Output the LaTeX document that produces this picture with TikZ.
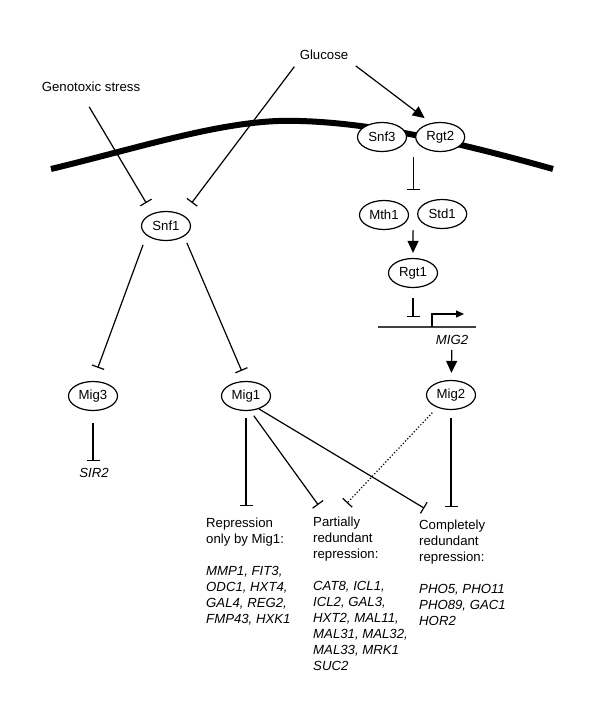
\documentclass[tikz,border=0pt]{standalone}
\usepackage{fontspec}
\setmainfont{Liberation Sans}
\usetikzlibrary{arrows.meta,positioning,calc}
\usetikzlibrary{shapes.geometric}
\tikzset{
  % proteins are drawn as ellipses sitting on top of the lines
  protein/.style={draw, ellipse, fill=white, line width=1.2pt,
  minimum width=49pt,
  minimum height=29pt, inner sep=0pt},
  signal/.style={inner sep=1pt},
  gene/.style={inner sep=1pt, font=\fontsize{13.2}{16}\selectfont\itshape},
  targets/.style={align=left, anchor=north west, inner sep=0pt},
  act/.style={-{Triangle[length=12pt,width=11pt]}, line width=1.2pt},
  inh/.style={-{Bar[width=13pt]}, line width=1.2pt}}

\begin{document}
\begin{tikzpicture}[%
    x=1pt, y=-1pt,           % one unit is one pixel of the figure
    font=\fontsize{13.2}{16}\selectfont,
    ]

\useasboundingbox (0,0) rectangle (600,710);

% the membrane
\draw [line width=6pt] (51,169) .. controls (150,145) and (230,118) .. (300,121)
  .. controls (370,123) and (450,140) .. (553,169);

\node (glucose) [signal] at (324,55) {Glucose};
\node (stress) [signal] at (91,87) {Genotoxic stress};

\node (snf3) [protein] at (382,137) {Snf3};
\node (rgt2) [protein, right=8pt of snf3] {Rgt2};

\node (snf1) [protein] at (166,226) {Snf1};

\node (mth1) [protein] at (384,215) {Mth1};
\node (std1) [protein, right=8pt of mth1, yshift=1pt] {Std1};
\coordinate (mthstd) at ($(mth1.east)!0.5!(std1.west)$); %between Mth1 and Std1

\node (rgt1) [protein] at (413,273) {Rgt1};

\coordinate (tss) at (432,327); %start of MIG2
\coordinate (gstart) at (378,327);
\coordinate (gend) at (476,327);
\node (mig2lab) [gene] at (452,340) {MIG2};

\node (mig3) [protein] at (93,396) {Mig3};
\node (mig1) [protein] at (246,396) {Mig1};
\node (mig2) [protein] at (451,395) {Mig2};

\node (sir2) [gene] at (94,473) {SIR2};

\node (rep1) [targets] at (206,518)
{Repression\\only by Mig1:\\[16pt]
\textit{MMP1, FIT3,}\\\textit{ODC1, HXT4,}\\\textit{GAL4, REG2,}\\\textit{FMP43, HXK1}};

\node (par) [targets] at (313,517)
{Partially\\redundant\\repression:\\[16pt]
\textit{CAT8, ICL1,}\\\textit{ICL2, GAL3,}\\\textit{HXT2, MAL11,}\\\textit{MAL31, MAL32,}\\\textit{MAL33, MRK1}\\\textit{SUC2}};

\node (com) [targets] at (419,520)
{Completely\\redundant\\repression:\\[16pt]
\textit{PHO5, PHO11}\\\textit{PHO89, GAC1}\\\textit{HOR2}};

% signals at the membrane
\draw [inh, shorten <=16pt, shorten >=12pt] ([xshift=-10pt]stress.south) -- (snf1.137);
\draw [inh, shorten <=7pt, shorten >=15pt] (glucose.south west) -- (snf1.34);
\draw [act, shorten <=8pt, shorten >=8pt] (glucose.south east) -- (rgt2.123);

% Rgt2 pathway
\draw [inh, shorten <=5pt, shorten >=10pt] (mthstd |- rgt2.south) -- (mthstd |- mth1.north);
\draw [act, shorten >=5pt] (mthstd |- mth1.south) -- (rgt1.north);
\draw [inh, shorten <=10pt, shorten >=10pt] (rgt1.south) -- (rgt1.south |- tss);
\draw [line width=1.2pt, black!75] (gstart) -- (gend);
\draw [line width=1.2pt, -{Triangle[length=8pt,width=7pt]}] (tss) -- ++(0,-13) -- ++(32,0);
\draw [act, shorten <=4pt, shorten >=7pt] (mig2lab) -- (mig2);

% Snf1 branches
\draw [inh, shorten <=10pt, shorten >=14pt] (snf1.206) -- (mig3.north);
\draw [inh, shorten <=7pt, shorten >=11pt] (snf1.-30) -- (mig1.north);
\draw [inh, shorten <=12pt, shorten >=6pt] (mig3.south) -- (mig3.south |- sir2.north);

% repressed genes
\draw [inh, shorten <=7pt, shorten >=12pt] (mig1.south) -- (mig1.south |- rep1.north);
\draw [inh, shorten <=6pt, shorten >=15pt] (mig1.-74) -- ([xshift=14pt]par.north west);
\draw [inh, shorten <=0pt, shorten >=23pt] (mig1.-45) -- ([xshift=25pt]com.north west);
\draw [inh, dotted, shorten <=7pt, shorten >=19pt] (mig2.222) -- ([xshift=21pt]par.north west);
\draw [inh, shorten <=8pt, shorten >=13pt] (mig2.south) -- (mig2.south |- com.north);

\end{tikzpicture}
\end{document}
